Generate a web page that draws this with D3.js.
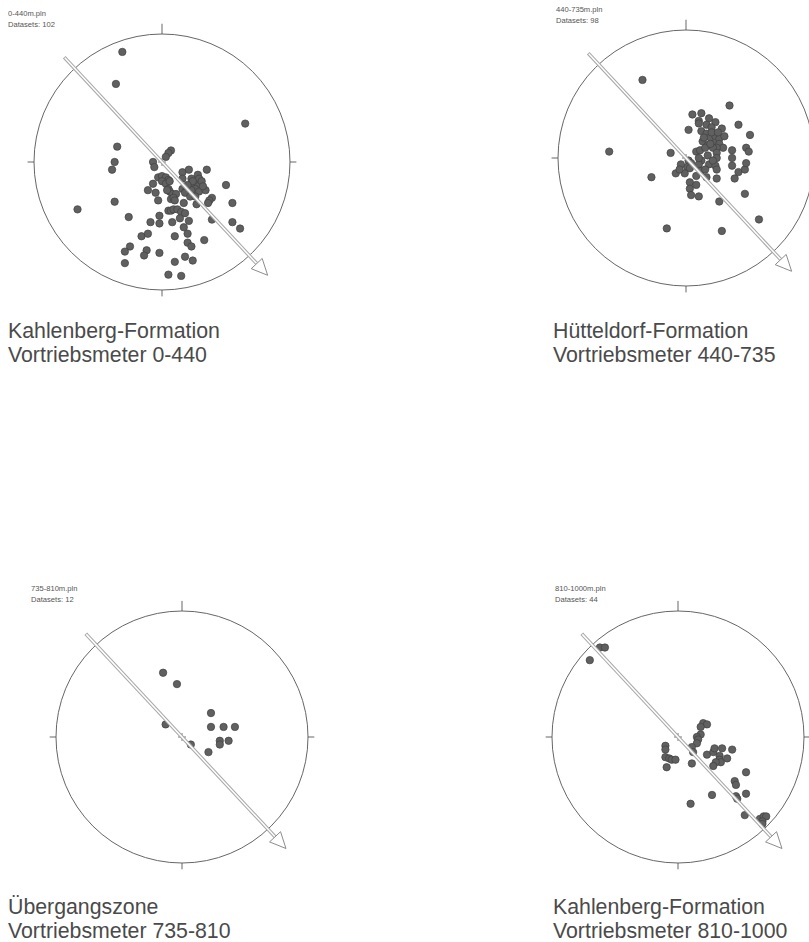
<!DOCTYPE html>
<html>
<head>
<meta charset="utf-8">
<script src="https://cdn.jsdelivr.net/npm/d3@7/dist/d3.min.js"></script>
<style>
  body { margin: 0; background: #fff; }
  svg text { font-family: "Liberation Sans", Arial, sans-serif; }
</style>
</head>
<body>
<div id="nets"></div>
<script>
var poles0440 = [
    [-31, 86], [-36, 61], [65, 30], [-35, 12], [-37, 0], [-39, -6], [-66, -37], [-37, -31], [-26, -43],
    [7, 9], [5, 7], [3, 4], [-7, 0], [-6, -4], [35, -6], [16, -8], [21, -6], [28, -10], [16, -13],
    [23, -13], [29, -13], [-3, -12], [0, -11], [3, -12], [5, -14], [0, -15], [3, -17], [-7, -17],
    [50, -18], [-11, -22], [-5, -24], [5, -21], [6, -23], [16, -21], [19, -22], [25, -17], [28, -19],
    [31, -15], [26, -21], [23, -22], [29, -23], [34, -22], [8, -25], [11, -25], [18, -24], [22, -27],
    [26, -27], [7, -29], [9, -28], [-3, -30], [39, -28], [37, -30], [36, -32], [27, -33], [17, -32],
    [55, -32], [5, -38], [7, -38], [9, -37], [12, -37], [15, -39], [18, -40], [-2, -42], [14, -44],
    [21, -46], [39, -45], [-9, -47], [-2, -48], [8, -47], [55, -47], [61, -52], [17, -51], [-16, -58],
    [-11, -56], [10, -58], [20, -56], [33, -61], [20, -63], [23, -66], [-25, -66], [-29, -70],
    [-12, -69], [-14, -73], [-2, -71], [-29, -79], [10, -78], [18, -74], [24, -77], [5, -88], [15, -89],
    [10, -30], [4, -22], [6, -15], [32, -19], [24, -15], [20, -18]
];

var poles440735 = [
    [-34, 61], [-60, 5], [34, 41], [-12, 4], [-27, -15], [-15, -55], [28, -57], [57, -48], [46, -28],
    [26, -34], [50, 18], [41, 26], [5, 34], [12, 35], [18, 31], [23, 28], [10, 29], [16, 26], [20, 24],
    [28, 23], [2, 22], [12, 21], [16, 19], [19, 16], [23, 17], [26, 15], [30, 17], [13, 13], [17, 10],
    [22, 11], [26, 11], [29, 8], [24, 8], [21, 8], [36, 6], [47, 8], [49, 5], [8, 5], [11, 6], [15, 8],
    [17, 2], [24, 4], [24, 0], [36, 0], [12, -2], [18, -5], [23, -6], [24, -9], [2, -2], [4, -4],
    [1, -7], [3, -8], [-4, -5], [-1, -12], [-8, -12], [-5, -9], [10, -5], [12, -10], [15, -9],
    [24, -16], [36, -6], [41, -11], [46, -9], [47, -4], [38, -16], [3, -19], [8, -21], [3, -24],
    [4, -29], [10, -30], [16, -15], [10, 27], [20, 20], [14, 16], [25, 20], [19, 11], [10, 0],
    [21, -2], [8, -14]
];

var poles735810 = [
    [-15, 51], [-4, 42], [23, 19], [-13, 10], [23, 8], [33, 8], [42, 8], [7, -6], [30, -3], [30, -6],
    [37, -3], [21, -12]
];

var poles8101000 = [
    [-70, 61], [-62, 71], [-58, 71], [20, 11], [23, 10], [18, 8], [18, 2], [15, 0], [16, -2], [15, -5],
    [11, -8], [12, -12], [-10, -7], [-10, -10], [-10, -16], [-7, -17], [-5, -18], [-2, -18], [-9, -24],
    [11, -21], [23, -14], [28, -12], [29, -9], [35, -9], [43, -10], [33, -15], [33, -18], [34, -20],
    [39, -17], [30, -20], [28, -23], [54, -28], [45, -35], [46, -38], [54, -45], [27, -46], [46, -47],
    [47, -49], [10, -53], [53, -62], [65, -65], [68, -63], [70, -63], [67, -67], [67, -69]
];

var fileNames = ["0-440m.pln", "440-735m.pln", "735-810m.pln", "810-1000m.pln"];
var datasetCounts = [102, 98, 12, 44];
var formations = ["Kahlenberg-Formation", "Hütteldorf-Formation", "Übergangszone", "Kahlenberg-Formation"];
var meterRanges = ["Vortriebsmeter 0-440", "Vortriebsmeter 440-735", "Vortriebsmeter 735-810", "Vortriebsmeter 810-1000"];
// tunnel drive direction (degrees from north) and arrow extent in percent of radius
var driveAzimuth = [137, 137, 137, 137];
var arrowFrom = -112, arrowTo = 121;

var allPoles = [poles0440, poles440735, poles735810, poles8101000];

// where each net sits on the page
var layout = [
    { cx: 162, cy: 162, r: 128, headX: 8, titleX: 8, titleY: 338 },
    { cx: 686, cy: 158, r: 128, headX: 556, titleX: 553, titleY: 338 },
    { cx: 182, cy: 737, r: 126, headX: 31, titleX: 8, titleY: 914 },
    { cx: 678, cy: 737, r: 126, headX: 555, titleX: 553, titleY: 914 }
];

var svg = d3.select("#nets")
    .append("svg")
    .attr("width", 809)
    .attr("height", 942);

svg.append("rect")
    .attr("width", 809)
    .attr("height", 942)
    .attr("fill", "#fff");

layout.forEach(function (p, i) {

    var x = d3.scaleLinear().domain([-100, 100]).range([p.cx - p.r, p.cx + p.r]);
    var y = d3.scaleLinear().domain([-100, 100]).range([p.cy + p.r, p.cy - p.r]);

    var g = svg.append("g");

    // header
    g.append("text")
        .attr("x", p.headX)
        .attr("y", p.cy - 146)
        .attr("font-size", "7.6px")
        .attr("fill", "#555")
        .text(fileNames[i]);
    g.append("text")
        .attr("x", p.headX)
        .attr("y", p.cy - 135)
        .attr("font-size", "7.6px")
        .attr("fill", "#555")
        .text("Datasets: " + datasetCounts[i]);

    // primitive circle
    g.append("circle")
        .attr("cx", x(0))
        .attr("cy", y(0))
        .attr("r", x(100) - x(0))
        .attr("fill", "none")
        .attr("stroke", "#555")
        .attr("stroke-width", 0.9);

    // N, E, S, W ticks
    var ticks = [[0, 100, 0, 108], [100, 0, 105, 0], [0, -100, 0, -105], [-100, 0, -105, 0]];
    g.selectAll(".tick")
        .data(ticks)
        .enter()
        .append("line")
        .attr("x1", d => x(d[0]))
        .attr("y1", d => y(d[1]))
        .attr("x2", d => x(d[2]))
        .attr("y2", d => y(d[3]))
        .attr("stroke", "#555")
        .attr("stroke-width", 0.9);

    // poles
    g.selectAll(".pole")
        .data(allPoles[i])
        .enter()
        .append("circle")
        .attr("cx", d => x(d[0]))
        .attr("cy", d => y(d[1]))
        .attr("r", 3.7)
        .attr("fill", "#606060")
        .attr("stroke", "#404040")
        .attr("stroke-width", 0.7);

    // center cross
    var c = 4;
    g.append("path")
        .attr("d", "M" + (x(0) - c) + "," + y(0) + "H" + (x(0) + c) + "M" + x(0) + "," + (y(0) - c) + "V" + (y(0) + c))
        .attr("stroke", "#555")
        .attr("stroke-width", 0.8);

    // drive direction arrow
    var az = driveAzimuth[i] * Math.PI / 180;
    var ex = Math.sin(az), ny = Math.cos(az);
    var x0 = x(arrowFrom * ex), y0 = y(arrowFrom * ny);
    var x1 = x(arrowTo * ex), y1 = y(arrowTo * ny);
    var len = Math.hypot(x1 - x0, y1 - y0);
    var ux = (x1 - x0) / len, uy = (y1 - y0) / len;
    var headL = 16, headW = 7.5;
    var bx = x1 - ux * headL, by = y1 - uy * headL;

    g.append("line")
        .attr("x1", x0).attr("y1", y0)
        .attr("x2", bx).attr("y2", by)
        .attr("stroke", "#a8a8a8")
        .attr("stroke-width", 3.6);
    g.append("line")
        .attr("x1", x0 + ux * 0.8).attr("y1", y0 + uy * 0.8)
        .attr("x2", bx).attr("y2", by)
        .attr("stroke", "#fff")
        .attr("stroke-width", 1.5);
    g.append("polygon")
        .attr("points", [
            [x1, y1],
            [bx - uy * headW, by + ux * headW],
            [bx + uy * headW, by - ux * headW]
        ].map(q => q.join(",")).join(" "))
        .attr("fill", "#fff")
        .attr("stroke", "#8c8c8c")
        .attr("stroke-width", 1);

    // title
    g.append("text")
        .attr("x", p.titleX)
        .attr("y", p.titleY)
        .attr("font-size", "21.3px")
        .attr("fill", "#4a4a4a")
        .text(formations[i]);
    g.append("text")
        .attr("x", p.titleX)
        .attr("y", p.titleY + 24)
        .attr("font-size", "21.3px")
        .attr("fill", "#4a4a4a")
        .text(meterRanges[i]);
})
</script>
</body>
</html>
